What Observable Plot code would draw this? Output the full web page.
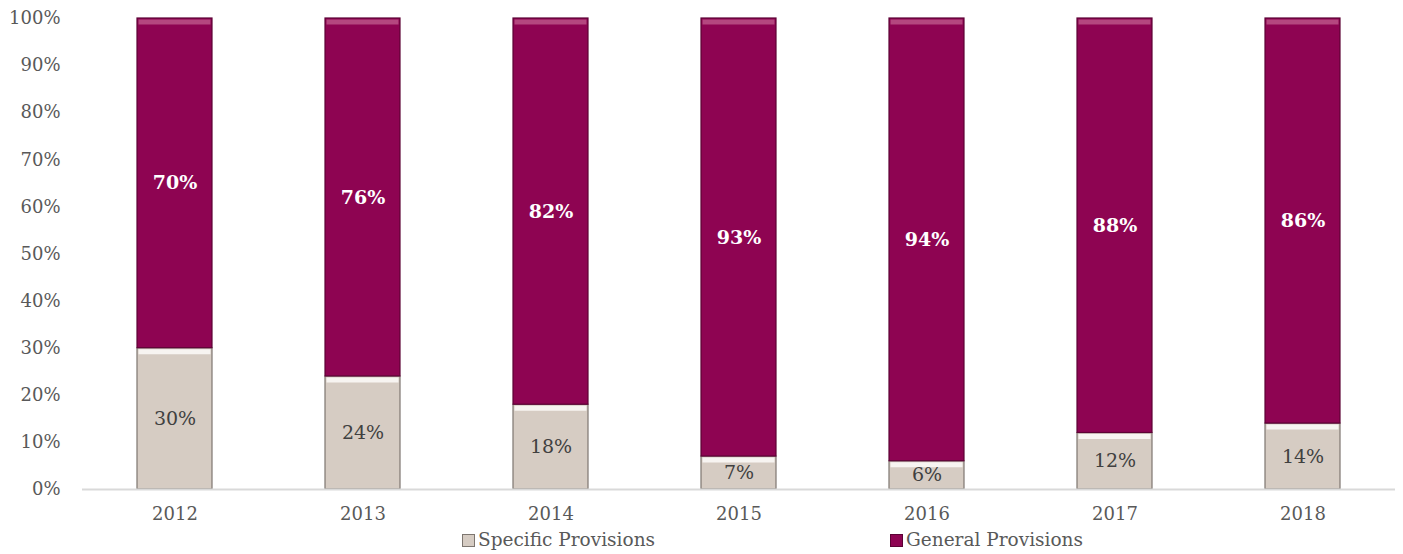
<!DOCTYPE html>
<html>
<head>
<meta charset="utf-8">
<script src="https://cdn.jsdelivr.net/npm/d3@7"></script>
<script src="https://cdn.jsdelivr.net/npm/@observablehq/plot@0.6"></script>
<style>
  html, body { margin: 0; padding: 0; background: #fff; }
  #chart { width: 1403px; }
  .legend { position: relative; height: 26px; font-family: "DejaVu Serif", serif; font-size: 18.5px; color: #595959; }
  .legend .item { position: absolute; top: 0; display: flex; align-items: center; line-height: 24px; }
  .legend .sw { width: 13px; height: 13px; margin-right: 3px; box-sizing: border-box; }
</style>
</head>
<body>
<div id="chart"></div>
<script>
const years = ["2012", "2013", "2014", "2015", "2016", "2017", "2018"];
const specific = [30, 24, 18, 7, 6, 12, 14];
const general = [70, 76, 82, 93, 94, 88, 86];
const seriesNames = ["Specific Provisions", "General Provisions"];
const colors = ["#D6CCC3", "#8E0452"];
const edgeColors = ["#7d7670", "#5c0235"];
const bevelColors = ["#f7f4f1", "#b4477f"];
const labelColors = ["#404040", "#ffffff"];
const yTicks = [0, 10, 20, 30, 40, 50, 60, 70, 80, 90, 100];

const data = [];
years.forEach((y, i) => {
  data.push({year: y, series: seriesNames[0], value: specific[i]});
  data.push({year: y, series: seriesNames[1], value: general[i]});
});

const font = "DejaVu Serif, serif";

const chart = Plot.plot({
  width: 1403,
  height: 528,
  marginTop: 18,
  marginBottom: 39,
  marginLeft: 82,
  marginRight: 8,
  style: {fontFamily: font, fontSize: "18px", color: "#595959", background: "#fff"},
  x: {domain: years, paddingInner: 0.6, paddingOuter: 0.29, label: null, tickSize: 0, tickPadding: 18},
  y: {domain: [0, 100], ticks: yTicks, tickFormat: d => d + "%", label: null, tickSize: 0, tickPadding: 22},
  color: {domain: seriesNames, range: colors},
  marks: [
    Plot.barY(data, {
      x: "year", y: "value", z: "series", fill: "series",
      stroke: d => edgeColors[seriesNames.indexOf(d.series)], strokeWidth: 1.2
    }),
    Plot.tickY(data, Plot.stackY2({
      x: "year", y: "value", z: "series",
      stroke: d => bevelColors[seriesNames.indexOf(d.series)],
      strokeWidth: 5, dy: 3.5, inset: 1.5
    })),
    Plot.ruleY([0], {stroke: "#d9d9d9", strokeWidth: 2}),
    Plot.text(data, Plot.stackY({
      x: "year", y: "value", z: "series",
      text: d => d.series === seriesNames[0] ? d.value + "%" : "",
      fill: labelColors[0],
      fontSize: 19
    })),
    Plot.text(data, Plot.stackY({
      x: "year", y: "value", z: "series",
      text: d => d.series === seriesNames[1] ? d.value + "%" : "",
      fill: labelColors[1],
      fontWeight: "bold",
      fontSize: 19
    }))
  ]
});
document.getElementById("chart").appendChild(chart);

const legend = document.createElement("div");
legend.className = "legend";
const lefts = [462, 890];
seriesNames.forEach((name, i) => {
  const item = document.createElement("div");
  item.className = "item";
  item.style.left = lefts[i] + "px";
  const sw = document.createElement("span");
  sw.className = "sw";
  sw.style.background = colors[i];
  sw.style.border = "1px solid " + edgeColors[i];
  const tx = document.createElement("span");
  tx.textContent = name;
  item.appendChild(sw);
  item.appendChild(tx);
  legend.appendChild(item);
});
document.getElementById("chart").appendChild(legend);
</script>
</body>
</html>
